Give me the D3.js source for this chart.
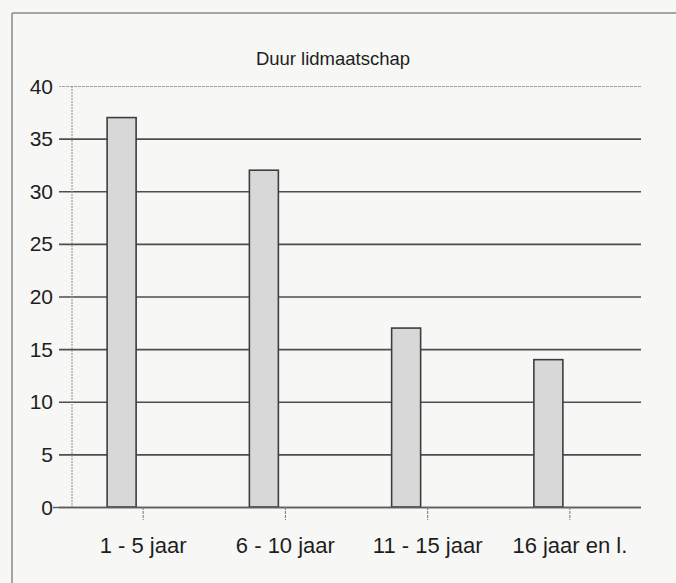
<!DOCTYPE html>
<html>
<head>
<meta charset="utf-8">
<script src="https://cdn.jsdelivr.net/npm/d3@7"></script>
<style>
  html, body { margin: 0; padding: 0; background: #f7f7f5; }
  svg { display: block; font-family: "Liberation Sans", Arial, sans-serif; }
</style>
</head>
<body>
<div></div>
<script>
const width = 676;
const height = 583;

const categories = ["1 - 5 jaar", "6 - 10 jaar", "11 - 15 jaar", "16 jaar en l."];
const members = [37, 32, 17, 14];
const yTicks = [0, 5, 10, 15, 20, 25, 30, 35, 40];
const title = "Duur lidmaatschap";

const svg = d3
  .select("div")
  .append("svg")
  .attr("width", width)
  .attr("height", height);

// frame of the scanned box (left + top edge)
svg.append("line")
  .attr("x1", 12).attr("y1", 13).attr("x2", width).attr("y2", 13)
  .attr("stroke", "#8a8a8a").attr("stroke-width", 1.5);
svg.append("line")
  .attr("x1", 12).attr("y1", 13).attr("x2", 12).attr("y2", height)
  .attr("stroke", "#8a8a8a").attr("stroke-width", 1.5);

const yScale = d3.scaleLinear().domain([0, 40]).range([507, 86]);
const xScale = d3.scaleBand().domain(categories).range([72, 641]);

// gridlines (axis with long ticks)
const grid = svg.append("g")
  .attr("transform", "translate(641,0)")
  .call(d3.axisLeft(yScale).tickValues(yTicks).tickSize(641 - 59).tickFormat(""));
grid.select(".domain").remove();
grid.selectAll(".tick line")
  .attr("stroke", (d) => (d === 40 ? "#a0a0a0" : "#4e4e4e"))
  .attr("stroke-width", (d) => (d === 40 ? 1.2 : 1.6))
  .attr("stroke-dasharray", (d) => (d === 40 ? "3,1" : null));

// y axis line
svg.append("line")
  .attr("x1", 72).attr("x2", 72)
  .attr("y1", yScale(40)).attr("y2", yScale(0))
  .attr("stroke", "#8c8c8c").attr("stroke-width", 1)
  .attr("stroke-dasharray", "2,1");

// y tick labels
svg.append("g")
  .selectAll("text")
  .data(yTicks)
  .enter()
  .append("text")
  .attr("x", 53)
  .attr("y", (d) => yScale(d))
  .attr("dy", "0.36em")
  .attr("text-anchor", "end")
  .attr("font-size", 21)
  .attr("fill", "#1e1e1e")
  .text((d) => d);

// bars
const barW = 29;
svg.append("g")
  .selectAll("rect")
  .data(members)
  .enter()
  .append("rect")
  .attr("x", (d, i) => xScale(categories[i]) + xScale.bandwidth() / 2 - 36)
  .attr("y", (d) => yScale(d))
  .attr("width", barW)
  .attr("height", (d) => yScale(0) - yScale(d))
  .attr("fill", "#d8d8d8")
  .attr("stroke", "#3e3e3e")
  .attr("stroke-width", 1.6);

// x axis
const xAxis = svg.append("g")
  .attr("transform", "translate(0," + yScale(0) + ")")
  .call(d3.axisBottom(xScale).tickSize(13).tickSizeOuter(0).tickPadding(17));
xAxis.select(".domain")
  .attr("d", "M53,0.5H641")
  .attr("stroke", "#5e5e5e")
  .attr("stroke-width", 1.5);
xAxis.selectAll(".tick line")
  .attr("stroke", "#777")
  .attr("stroke-dasharray", "3,1");
xAxis.selectAll(".tick text")
  .attr("font-size", 22)
  .attr("font-family", "Liberation Sans, Arial, sans-serif")
  .attr("fill", "#1e1e1e");

// title
svg.append("text")
  .attr("x", 333)
  .attr("y", 65)
  .attr("text-anchor", "middle")
  .attr("font-size", 18.5)
  .attr("fill", "#1e1e1e")
  .text(title);
</script>
</body>
</html>
